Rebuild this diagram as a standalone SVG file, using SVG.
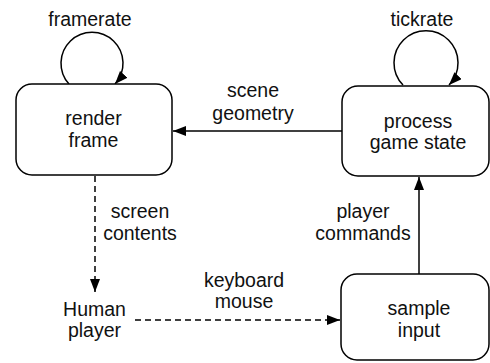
<svg xmlns="http://www.w3.org/2000/svg" width="490" height="363" viewBox="0 0 490 363">
<style>
.box{fill:#fff;stroke:#000;stroke-width:1.5}
.edge{fill:none;stroke:#000;stroke-width:1.5}
.dash{stroke-dasharray:6,4}
text{font-family:"Liberation Sans",Arial,sans-serif;font-size:19.5px;fill:#111;text-anchor:middle}
</style>
<defs>
<marker id="ah" markerUnits="userSpaceOnUse" markerWidth="14" markerHeight="12" refX="13" refY="5" orient="auto">
<path d="M0,0 L13,5 L0,10 z" fill="#000"/>
</marker>
</defs>
<rect width="490" height="363" fill="#fff"/>
<g id="connectors">
<path class="edge" d="M69,84 A31,31 0 1 1 115,84" marker-end="url(#ah)"/>
<path class="edge" d="M403,85 A32,32 0 1 1 449,85" marker-end="url(#ah)"/>
<path class="edge" d="M342,131 L173,131" marker-end="url(#ah)"/>
<path class="edge dash" d="M95,176 L95,292" marker-end="url(#ah)"/>
<path class="edge dash" d="M135,320 L340,320" marker-end="url(#ah)"/>
<path class="edge" d="M419,274 L419,177" marker-end="url(#ah)"/>
<text x="90" y="25.5">framerate</text>
<text x="422" y="25.5">tickrate</text>
<text x="253" y="96.5">scene</text>
<text x="253" y="119.5">geometry</text>
<text x="140" y="218">screen</text>
<text x="140" y="240">contents</text>
<text x="363" y="218">player</text>
<text x="363" y="240">commands</text>
<text x="244" y="286.5">keyboard</text>
<text x="244" y="308">mouse</text>
</g>
<g id="render">
<rect class="box" x="16" y="84" width="156" height="91" rx="16"/>
<text x="93.5" y="125">render</text>
<text x="93.5" y="146.5">frame</text>
</g>
<g id="process">
<rect class="box" x="342" y="86" width="147" height="90" rx="16"/>
<text x="418" y="127.5">process</text>
<text x="418" y="148.5">game state</text>
</g>
<g id="human">
<text x="94.5" y="316">Human</text>
<text x="94.5" y="336.5">player</text>
</g>
<g id="sample">
<rect class="box" x="341" y="274" width="148" height="86" rx="16"/>
<text x="419" y="315">sample</text>
<text x="419" y="336.5">input</text>
</g>
</svg>
